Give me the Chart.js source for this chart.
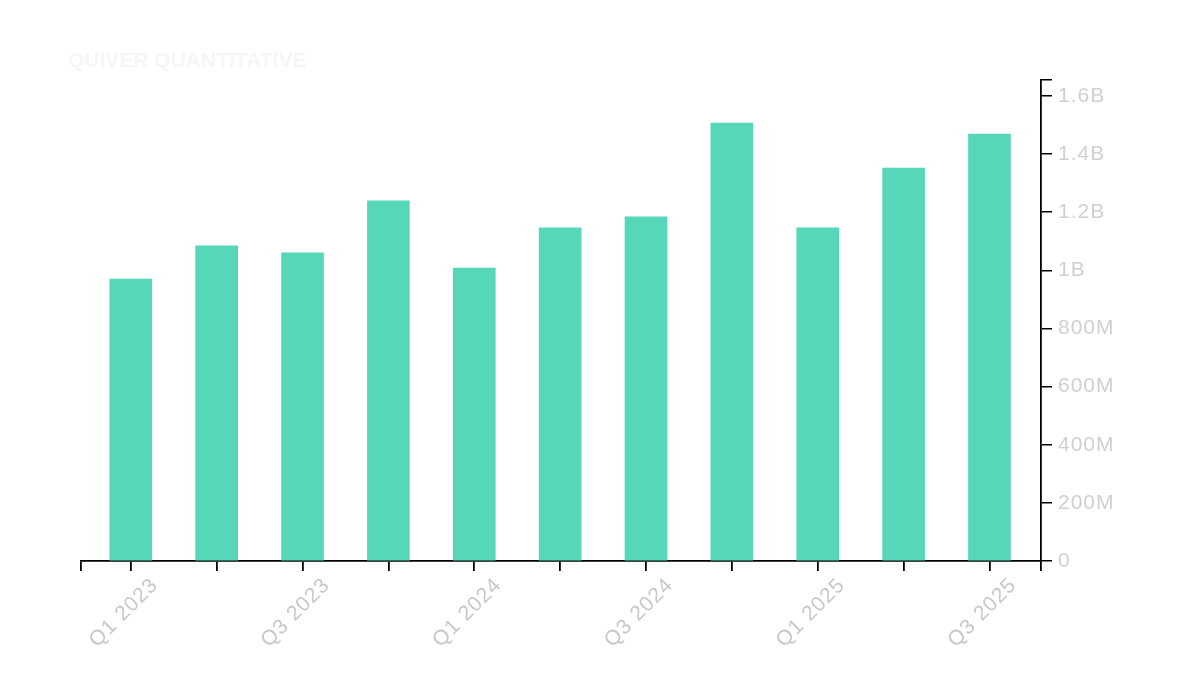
<!DOCTYPE html>
<html>
<head>
<meta charset="utf-8">
<script src="https://cdn.jsdelivr.net/npm/chart.js@4.4.1/dist/chart.umd.min.js"></script>
<style>
  html, body { margin: 0; padding: 0; background: #fff; }
  canvas { display: block; }
</style>
</head>
<body>
<canvas id="mycanvas" width="1200" height="700"></canvas>
<script>
var quarters = ["Q1 2023", "Q2 2023", "Q3 2023", "Q4 2023", "Q1 2024", "Q2 2024",
                "Q3 2024", "Q4 2024", "Q1 2025", "Q2 2025", "Q3 2025"];
var revenue = [970e6, 1084e6, 1060e6, 1239e6, 1008e6, 1146e6,
               1184e6, 1507e6, 1146e6, 1352e6, 1469e6];
var yTicks = [0, 200e6, 400e6, 600e6, 800e6, 1000e6, 1200e6, 1400e6, 1600e6];
var yMax = 1655e6;
var xMin = -0.58, xMax = 10.6;

function fmtValue(v) {
  if (v == 0) return "0";
  if (v >= 1e9) return (v / 1e9).toString() + "B";
  return (v / 1e6).toString() + "M";
}

// labels in the original are a touch wider than plain Arial
var spacingPlugin = {
  id: "spacing",
  beforeDraw: function(chart) { chart.ctx.letterSpacing = "1px"; }
};

// watermark title, almost white like the original
var titlePlugin = {
  id: "wm",
  afterDraw: function(chart) {
    var ctx = chart.ctx;
    ctx.save();
    ctx.letterSpacing = "0px";
    ctx.fillStyle = "#f6f6f6";
    ctx.font = "bold 21px 'Liberation Sans', Arial, sans-serif";
    ctx.textBaseline = "middle";
    ctx.fillText("QUIVER QUANTITATIVE", 68, 61);
    ctx.restore();
  }
};

var points = [];
for (var i in revenue) {
  points.push({ x: Number(i), y: revenue[i] });
}

var ctx = document.getElementById("mycanvas");
var chart = new Chart(ctx, {
  type: "bar",
  data: {
    datasets: [{
      label: "Revenue",
      data: points,
      backgroundColor: "#56d7ba",
      borderWidth: 0,
      barThickness: 42
    }]
  },
  options: {
    responsive: false,
    animation: false,
    layout: { padding: { left: 81, top: 80, right: 0, bottom: 0 } },
    plugins: { legend: { display: false }, tooltip: { enabled: false } },
    scales: {
      x: {
        type: "linear",
        offset: false,
        min: xMin,
        max: xMax,
        afterBuildTicks: function(scale) {
          var t = [{ value: xMin }];
          for (var i = 0; i < quarters.length; i++) t.push({ value: i });
          t.push({ value: xMax });
          scale.ticks = t;
        },
        afterFit: function(scale) { scale.height = 139; },
        grid: { offset: false, drawOnChartArea: false, color: "#000", lineWidth: 1.8, tickLength: 10 },
        border: { color: "#000", width: 1.8 },
        ticks: {
          autoSkip: false,
          maxRotation: 45,
          minRotation: 45,
          color: "#c8c8c8",
          padding: 2,
          labelOffset: 24,
          font: { family: "'Liberation Sans', Arial, sans-serif", size: 21 },
          callback: function(v) {
            if (v % 1 !== 0 || v % 2 !== 0) return "";
            return quarters[v];
          }
        }
      },
      y: {
        position: "right",
        min: 0,
        max: yMax,
        afterBuildTicks: function(scale) {
          var t = yTicks.map(function(v) { return { value: v }; });
          t.push({ value: yMax });
          scale.ticks = t;
        },
        afterFit: function(scale) { scale.width = 159; },
        grid: { drawOnChartArea: false, color: "#000", lineWidth: 1.5, tickLength: 11 },
        border: { color: "#000", width: 1.8 },
        ticks: {
          color: "#d0d0d0",
          padding: 6,
          font: { family: "'Liberation Sans', Arial, sans-serif", size: 21 },
          callback: function(v) {
            if (v === yMax) return "";
            return fmtValue(v);
          }
        }
      }
    }
  },
  plugins: [spacingPlugin, titlePlugin]
});
</script>
</body>
</html>
